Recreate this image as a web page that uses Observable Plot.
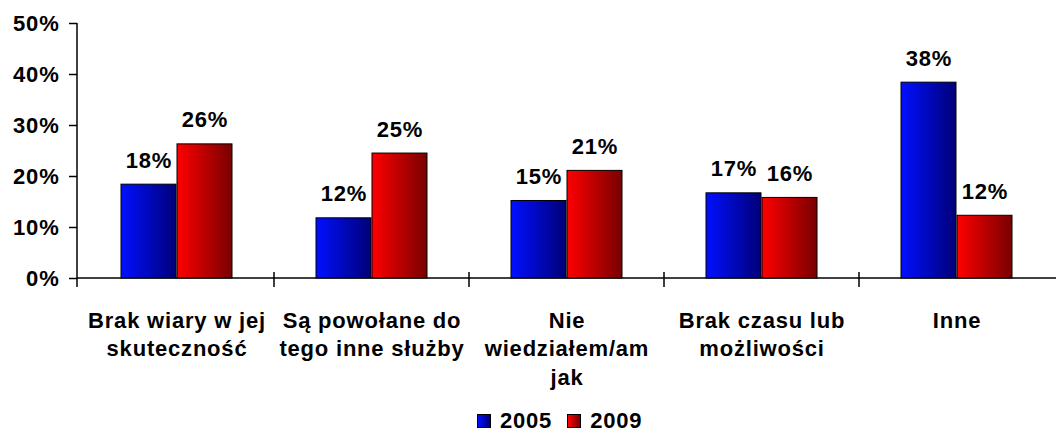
<!DOCTYPE html>
<html>
<head>
<meta charset="utf-8">
<script src="https://cdn.jsdelivr.net/npm/d3@7"></script>
<script src="https://cdn.jsdelivr.net/npm/@observablehq/plot@0.6"></script>
<style>
  html, body { margin: 0; padding: 0; background: #fff; }
  body { width: 1056px; height: 432px; overflow: hidden; font-family: "Liberation Sans", Arial, sans-serif; font-weight: bold; }
  #chart svg text { letter-spacing: 0.8px; }
  #legend { position: relative; height: 22px; margin-top: 15px; display: flex; align-items: center; padding-left: 477px; font-size: 22px; line-height: 22px; color: #000; letter-spacing: 0.8px; }
  .sw { width: 12px; height: 12px; border: 1px solid #000; display: inline-block; }
  .lab { margin-left: 9px; margin-right: 15px; }
</style>
</head>
<body>
<div id="chart"></div>
<div id="legend"></div>
<script>
const categories = [
  "Brak wiary w jej\nskuteczność",
  "Są powołane do\ntego inne służby",
  "Nie\nwiedziałem/am\njak",
  "Brak czasu lub\nmożliwości",
  "Inne"
];
const series = ["2005", "2009"];
const values2005 = [18.4, 11.8, 15.2, 16.7, 38.4];
const values2009 = [26.3, 24.5, 21.1, 15.8, 12.3];
const labels2005 = ["18%", "12%", "15%", "17%", "38%"];
const labels2009 = ["26%", "25%", "21%", "16%", "12%"];
const yTicks = [0, 10, 20, 30, 40, 50];

const gradients = {"2005": ["#0010ff", "#000078"], "2009": ["#ff0000", "#780000"]};

const data = [];
categories.forEach((c, i) => {
  data.push({cat: c, series: "2005", value: values2005[i], label: labels2005[i]});
  data.push({cat: c, series: "2009", value: values2009[i], label: labels2009[i]});
});
const d05 = data.filter(d => d.series === "2005");
const d09 = data.filter(d => d.series === "2009");

const W = 1056, H = 395;
const font = "Liberation Sans, Arial, sans-serif";

// defs + axis lines + separators, drawn from the library's scales
function frameMark(index, scales, values, dimensions) {
  const g = d3.create("svg:g");
  const defs = g.append("defs");
  for (const s of series) {
    const lg = defs.append("linearGradient").attr("id", "grad" + s)
      .attr("x1", "0").attr("x2", "1").attr("y1", "0").attr("y2", "0");
    lg.append("stop").attr("offset", "0").attr("stop-color", gradients[s][0]);
    lg.append("stop").attr("offset", "1").attr("stop-color", gradients[s][1]);
  }
  const x = scales.x, y = scales.y;
  const y0 = y(0), yTop = y(50);
  const left = dimensions.marginLeft, right = dimensions.width - dimensions.marginRight;
  g.append("line").attr("x1", left).attr("x2", right).attr("y1", y0).attr("y2", y0)
    .attr("stroke", "#000").attr("stroke-width", 1.5);
  g.append("line").attr("x1", left).attr("x2", left).attr("y1", yTop).attr("y2", y0 + 9)
    .attr("stroke", "#000").attr("stroke-width", 1.5);
  categories.forEach((c, i) => {
    if (i === 0) return;
    const xs = x(c);
    g.append("line").attr("x1", xs).attr("x2", xs).attr("y1", y0 - 6).attr("y2", y0 + 9)
      .attr("stroke", "#000").attr("stroke-width", 1.5);
  });
  return g.node();
}

const plot = Plot.plot({
  width: W,
  height: H,
  marginLeft: 77,
  marginRight: 0,
  marginTop: 23,
  marginBottom: H - 278,
  style: {fontFamily: font, fontWeight: "bold", fontSize: "22px", color: "#000", background: "#fff"},
  x: {type: "band", domain: categories, padding: 0, axis: null},
  y: {domain: [0, 50], axis: null},
  marks: [
    frameMark,
    Plot.axisY({ticks: yTicks, label: null, tickSize: 8, tickPadding: 10, tickFormat: d => d + "%",
      fontSize: 22, fontWeight: "bold", stroke: "#000", strokeWidth: 1.5}),
    Plot.barY(d05, {x: "cat", y: "value", fill: "url(#grad2005)", stroke: "#000", strokeWidth: 1, insetLeft: 42, insetRight: 98}),
    Plot.barY(d09, {x: "cat", y: "value", fill: "url(#grad2009)", stroke: "#000", strokeWidth: 1, insetLeft: 98, insetRight: 42}),
    Plot.text(d05, {x: "cat", y: "value", text: "label", dx: -28, dy: -17, lineAnchor: "bottom", fontSize: 22, fontWeight: "bold", fill: "#000"}),
    Plot.text(d09, {x: "cat", y: "value", text: "label", dx: 28, dy: -17, lineAnchor: "bottom", fontSize: 22, fontWeight: "bold", fill: "#000"}),
    Plot.text(categories, {x: d => d, text: d => d, frameAnchor: "bottom", dy: 29, lineAnchor: "top", lineHeight: 1.3, fontSize: 22, fontWeight: "bold", fill: "#000", textAnchor: "middle"})
  ]
});
document.getElementById("chart").appendChild(plot);

const legend = d3.select("#legend");
for (const s of series) {
  legend.append("span").attr("class", "sw")
    .style("background", `linear-gradient(to right, ${gradients[s][0]}, ${gradients[s][1]})`);
  legend.append("span").attr("class", "lab").text(s);
}
</script>
</body>
</html>
